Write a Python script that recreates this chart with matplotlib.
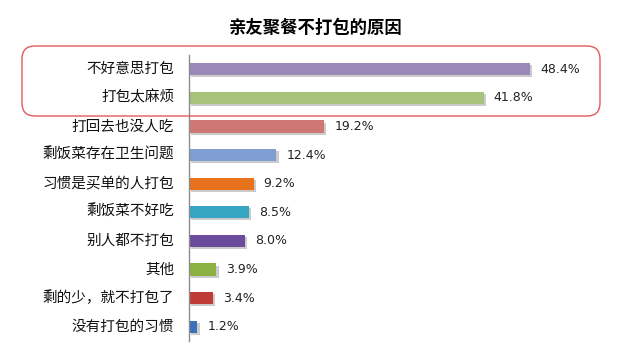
import matplotlib
matplotlib.use("Agg")
import matplotlib.pyplot as plt
import matplotlib.patheffects as pe
from matplotlib.patches import FancyBboxPatch

plt.rcParams['font.family'] = ['Noto Sans CJK SC', 'DejaVu Sans']

# --- data ---
title = "亲友聚餐不打包的原因"
cats = ["不好意思打包", "打包太麻烦", "打回去也没人吃", "剩饭菜存在卫生问题", "习惯是买单的人打包",
        "剩饭菜不好吃", "别人都不打包", "其他", "剩的少，就不打包了", "没有打包的习惯"]
vals = [48.4, 41.8, 19.2, 12.4, 9.2, 8.5, 8.0, 3.9, 3.4, 1.2]
colors = ["#9A88B8", "#A8C47A", "#CF7775", "#7F9ED2", "#E8731C", "#36A5C2",
          "#6B4C9C", "#8DB244", "#BE3B36", "#3C70B8"]

W, H = 621, 357
fig = plt.figure(figsize=(W / 100, H / 100), dpi=100)
fig.patch.set_facecolor("white")

# axes placed in pixel terms: axis line at x=189, rows from y=55 to 341
ax = fig.add_axes([189 / W, 1 - 341 / H, (W - 189) / W, 286 / H])
ypos = list(range(len(cats)))
shadow = [pe.SimplePatchShadow(offset=(1.5, -1.5), shadow_rgbFace="#999999", alpha=0.5), pe.Normal()]
bars = ax.barh(ypos, vals, height=0.42, color=colors, edgecolor="none")
for b in bars:
    b.set_path_effects(shadow)
ax.set_ylim(len(cats) - 0.5, -0.5)
ax.set_xlim(0, (W - 189) / 7.05)

for y, v in zip(ypos, vals):
    ax.text(v + 1.4, y, f"{v:.1f}%", va="center", ha="left", fontsize=9,
            family=['DejaVu Sans'], color="#222222")
for y, c in zip(ypos, cats):
    ax.text(-2.1, y, c, va="center", ha="right", fontsize=10.5, color="#111111")

for s in ["top", "right", "bottom"]:
    ax.spines[s].set_visible(False)
ax.spines["left"].set_color("#8C8C8C")
ax.spines["left"].set_linewidth(1)
ax.set_xticks([])
ax.set_yticks([])

fig.text(316 / W, 1 - 28 / H, title, ha="center", va="center", fontsize=12.5, fontweight="bold")

# red rounded frame round the top two rows (inches)
box = FancyBboxPatch((0.22, (H - 116) / 100), (600 - 22) / 100, (116 - 46) / 100,
                     boxstyle="round,pad=0,rounding_size=0.13", transform=fig.dpi_scale_trans,
                     facecolor="none", edgecolor="#E05A5A", linewidth=1.0)
fig.patches.append(box)

fig.savefig("out.png", dpi=100, facecolor="white")
